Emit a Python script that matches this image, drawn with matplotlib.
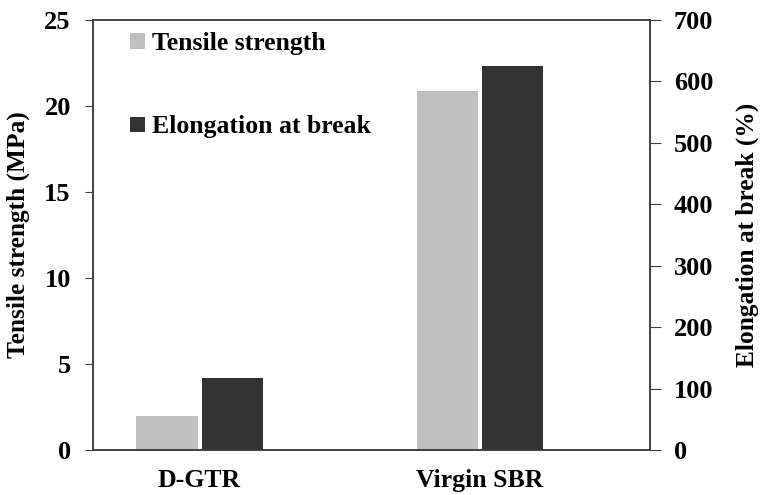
import matplotlib
matplotlib.use('Agg')
import matplotlib.pyplot as plt
import numpy as np

# Data
samples = ['D-GTR', 'Virgin SBR']
tensile = [1.95, 20.9]        # MPa
elongation = [118, 625]       # %

plt.rcParams['font.family'] = ['Liberation Serif', 'DejaVu Serif']
plt.rcParams['font.weight'] = 'bold'
plt.rcParams['font.size'] = 18

fig = plt.figure(figsize=(7.6, 4.95), dpi=100)
ax = fig.add_axes([0.1224, 0.0909, 0.733, 0.8687])
ax2 = ax.twinx()

x = np.arange(len(samples))
w = 0.218
off = 0.116

b1 = ax.bar(x - off, tensile, w, color='#bfbfbf', label='Tensile strength')
b2 = ax2.bar(x + off, elongation, w, color='#333333', label='Elongation at break')

ax.set_xlim(-0.38, 1.607)
ax.set_ylim(0, 25)
ax2.set_ylim(0, 700)
ax.set_yticks(range(0, 26, 5))
ax2.set_yticks(range(0, 701, 100))
ax.set_xticks(x)
ax.set_xticklabels(samples, fontsize=18.5)

ax.set_ylabel('Tensile strength (MPa)', fontsize=18.3, fontweight='bold', labelpad=10)
ax2.set_ylabel('Elongation at break (%)', fontsize=18.3, fontweight='bold', labelpad=16)

for a in (ax, ax2):
    for s in a.spines.values():
        s.set_color('#404040')
        s.set_linewidth(1.2)
ax.tick_params(axis='x', length=0, pad=14)
ax.tick_params(axis='y', direction='out', length=6, color='#404040', labelsize=19, pad=10)
ax2.tick_params(axis='y', direction='out', length=8, color='#404040', labelsize=19, pad=9)

leg = ax2.legend(handles=[b1, b2], loc='upper left', bbox_to_anchor=(0.066, 0.972),
                 frameon=False, borderpad=0, borderaxespad=0,
                 handlelength=0.58, handleheight=0.55,
                 handletextpad=0.3, labelspacing=2.35,
                 prop={'family': 'Liberation Serif', 'weight': 'bold', 'size': 18.5})

fig.savefig('out.png', dpi=100)
